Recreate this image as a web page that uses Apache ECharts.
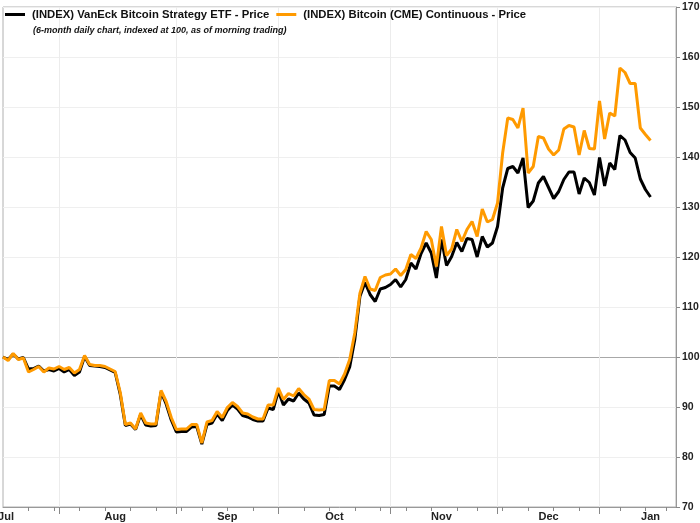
<!DOCTYPE html>
<html>
<head>
<meta charset="utf-8">
<script src="https://cdn.jsdelivr.net/npm/echarts@6/dist/echarts.min.js"></script>
<style>html,body{margin:0;padding:0;background:#fff}#c{width:700px;height:523px}</style>
</head>
<body>
<div id="c"></div>
<script>
// ---- data ----
const startDate = '2023-07-17';
const endDate = '2024-01-24';
const holidays = ['2023-09-04', '2023-11-23', '2023-12-25', '2024-01-01', '2024-01-15'];
const seriesNames = ['(INDEX) VanEck Bitcoin Strategy ETF - Price', '(INDEX) Bitcoin (CME) Continuous - Price'];
const subtitle = '(6-month daily chart, indexed at 100, as of morning trading)';
const labelDates = ['2023-07-17', '2023-08-16', '2023-09-18', '2023-10-17', '2023-11-15', '2023-12-15', '2024-01-17'];
const labelTexts = ['Jul', 'Aug', 'Sep', 'Oct', 'Nov', 'Dec', 'Jan'];
const yTicks = [70, 80, 90, 100, 110, 120, 130, 140, 150, 160, 170];

const etf = [
  100.0, 99.5, 100.6, 99.6, 99.9, 97.6, 97.7, 98.2, 97.2, 97.5,
  97.2, 97.7, 97.0, 97.5, 96.3, 97.0, 100.1, 98.3, 98.2, 98.1,
  97.9, 97.4, 96.9, 92.5, 86.3, 86.6, 85.5, 88.5, 86.4, 86.2,
  86.3, 93.0, 90.6, 87.4, 85.0, 85.1, 85.1, 86.0, 86.1, 82.6,
  86.5, 86.8, 88.6, 87.3, 89.3, 90.4, 89.6, 88.3, 88.0, 87.5,
  87.2, 87.2, 89.8, 89.5, 93.2, 90.4, 91.6, 91.2, 92.8, 91.6,
  90.8, 88.4, 88.3, 88.5, 94.2, 94.2, 93.5, 95.5, 98.0, 103.5,
  112.1, 114.9, 112.5, 111.1, 113.6, 113.9, 114.5, 115.5, 114.0, 115.5,
  118.8, 117.6, 120.7, 122.8, 120.8, 115.8, 123.5, 118.3, 120.1, 122.9,
  121.1, 123.7, 123.5, 120.0, 124.1, 122.0, 122.8, 126.1, 133.8, 137.7,
  138.1, 136.8, 139.8, 129.9, 131.2, 134.8, 136.1, 133.9, 131.7, 133.1,
  135.5, 137.0, 137.0, 132.6, 135.8, 134.9, 132.4, 139.9, 134.2, 138.8,
  137.5, 144.3, 143.4, 140.9, 139.8, 135.6, 133.5, 132.0
];
const cme = [
  100.0, 99.3, 100.7, 99.5, 99.8, 97.0, 97.5, 98.1, 97.0, 97.8,
  97.6, 98.1, 97.5, 97.9, 96.8, 97.5, 100.3, 98.5, 98.3, 98.3,
  98.1, 97.6, 97.1, 92.9, 86.5, 86.8, 85.6, 88.8, 86.8, 86.6,
  86.6, 93.3, 91.1, 87.9, 85.5, 85.6, 85.6, 86.5, 86.5, 82.8,
  87.0, 87.3, 89.1, 87.9, 89.9, 90.9, 90.1, 88.8, 88.6, 88.0,
  87.6, 87.6, 90.4, 90.4, 93.8, 91.5, 92.7, 92.2, 93.7, 92.5,
  91.6, 89.5, 89.4, 89.5, 95.3, 95.3, 94.6, 96.6, 99.5, 104.8,
  112.7, 116.1, 113.6, 113.3, 115.9, 116.4, 116.6, 117.6, 116.3, 117.5,
  120.5, 119.7, 121.8, 125.1, 123.5, 118.1, 126.1, 120.3, 121.6, 125.5,
  123.1, 125.5, 127.1, 124.1, 129.6, 127.0, 127.5, 130.8, 140.8, 147.8,
  147.5, 145.8, 149.8, 136.8, 138.1, 144.1, 143.8, 141.6, 140.4, 141.4,
  145.6, 146.3, 146.0, 140.4, 145.3, 141.7, 141.6, 151.2, 143.6, 148.8,
  148.2, 157.8, 156.9, 154.7, 154.7, 145.8, 144.5, 143.3
];

// ---- trading-day categories ----
function tradingDays(s, e, hol) {
  const out = [];
  const d = new Date(s + 'T00:00:00Z');
  const end = new Date(e + 'T00:00:00Z');
  while (d <= end) {
    const wd = d.getUTCDay();
    const iso = d.toISOString().slice(0, 10);
    if (wd !== 0 && wd !== 6 && hol.indexOf(iso) < 0) out.push(iso);
    d.setUTCDate(d.getUTCDate() + 1);
  }
  return out;
}
const dates = tradingDays(startDate, endDate, holidays);
const weekday = s => new Date(s + 'T00:00:00Z').getUTCDay();
const isWeekStart = i => i > 0 && weekday(dates[i]) < weekday(dates[i - 1]);
const isMonthStart = i => i > 0 && dates[i].slice(5, 7) !== dates[i - 1].slice(5, 7);
const labelMap = {};
labelDates.forEach((d, k) => { labelMap[d] = labelTexts[k]; });

const splitColors = yTicks.map(v => v === 100 ? '#a8a8a8' : '#efefef');
const FONT = 'Liberation Sans, Arial, sans-serif';

const chart = echarts.init(document.getElementById('c'), null, { renderer: 'canvas' });
chart.setOption({
  animation: false,
  backgroundColor: '#fff',
  textStyle: { fontFamily: FONT },
  title: {
    text: subtitle,
    left: 33, top: 26, padding: 0,
    textStyle: { fontSize: 9, fontStyle: 'italic', fontWeight: 'bold', color: '#111', fontFamily: FONT }
  },
  legend: {
    left: 5, top: 9, padding: 0,
    itemWidth: 20, itemHeight: 3, itemGap: 7,
    icon: 'rect',
    textStyle: { fontSize: 11.3, fontWeight: 'bold', color: '#111', padding: [0, 0, 0, 2] },
    data: seriesNames
  },
  grid: { left: 3, right: 24, top: 7, bottom: 16, show: true, borderColor: '#b0b0b0', borderWidth: 1, containLabel: false, outerBoundsMode: 'none' },
  xAxis: [{
    type: 'category',
    data: dates,
    boundaryGap: false,
    axisLine: { lineStyle: { color: '#999' } },
    axisTick: { interval: (i) => isWeekStart(i), length: 4, lineStyle: { color: '#888' } },
    splitLine: { show: true, interval: (i) => isMonthStart(i), lineStyle: { color: '#ececec' } },
    axisLabel: {
      interval: (i, v) => labelMap[v] !== undefined,
      formatter: (v) => v === labelDates[0] ? '{f|' + labelMap[v] + '}' : labelMap[v],
      margin: 4,
      fontSize: 11, fontWeight: 'bold', color: '#222',
      rich: { f: { fontSize: 11, fontWeight: 'bold', color: '#222', padding: [0, 0, 0, 6] } }
    }
  }, {
    type: 'category',
    data: dates,
    boundaryGap: false,
    position: 'bottom',
    axisLine: { show: false },
    axisTick: { interval: (i) => isMonthStart(i), length: 7, lineStyle: { color: '#888' } },
    axisLabel: { show: false },
    splitLine: { show: false }
  }],
  yAxis: {
    type: 'value',
    position: 'right',
    min: 70, max: 170, interval: 10,
    axisLine: { show: true, lineStyle: { color: '#999' } },
    axisTick: { show: true, length: 4, lineStyle: { color: '#888' } },
    axisLabel: { fontSize: 10.5, fontWeight: 'bold', color: '#222', margin: 6 },
    splitLine: { show: true, lineStyle: { color: splitColors } }
  },
  series: [{
    name: seriesNames[0],
    type: 'line',
    data: etf,
    showSymbol: false,
    symbol: 'none',
    lineStyle: { color: '#000', width: 3 },
    itemStyle: { color: '#000' }
  }, {
    name: seriesNames[1],
    type: 'line',
    data: cme,
    showSymbol: false,
    symbol: 'none',
    lineStyle: { color: '#ff9a00', width: 3 },
    itemStyle: { color: '#ff9a00' }
  }]
});
</script>
</body>
</html>
